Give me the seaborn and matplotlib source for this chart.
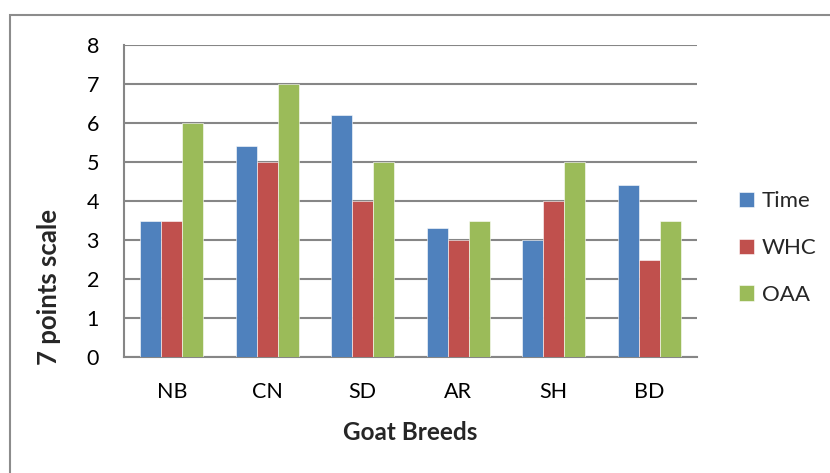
import matplotlib
matplotlib.use("Agg")
import matplotlib.pyplot as plt
import seaborn as sns
import pandas as pd

breeds = ["NB", "CN", "SD", "AR", "SH", "BD"]
time_vals = [3.5, 5.4, 6.2, 3.3, 3.0, 4.4]
whc_vals = [3.5, 5.0, 4.0, 3.0, 4.0, 2.5]
oaa_vals = [6.0, 7.0, 5.0, 3.5, 5.0, 3.5]
series_names = ["Time", "WHC", "OAA"]
colors = ["#4F81BD", "#C0504D", "#9BBB59"]
y_ticks = [0, 1, 2, 3, 4, 5, 6, 7, 8]

df = pd.DataFrame({
    "Breed": breeds * 3,
    "Series": [s for s in series_names for _ in breeds],
    "Score": time_vals + whc_vals + oaa_vals,
})

sns.set_theme(style="white")
plt.rcParams["font.family"] = ["Lato", "DejaVu Sans"]

fig = plt.figure(figsize=(8.3, 4.73), dpi=100)
ax = fig.add_axes([0.1494, 0.2452, 0.6904, 0.6597])

sns.barplot(data=df, x="Breed", y="Score", hue="Series", order=breeds,
            hue_order=series_names, palette=colors, width=0.66,
            saturation=1, edgecolor="white", linewidth=0.4, ax=ax, zorder=3)

ax.set_ylim(0, 8)
ax.set_yticks(y_ticks)
ax.set_xlim(-0.5, len(breeds) - 0.5)
ax.grid(axis="y", color="#868686", linewidth=1.5, zorder=0)
ax.set_axisbelow(True)
for side in ["top", "right"]:
    ax.spines[side].set_visible(False)
for side in ["left", "bottom"]:
    ax.spines[side].set_color("#868686")
    ax.spines[side].set_linewidth(1.5)
ax.tick_params(axis="both", length=0, labelsize=15.5, colors="black")
ax.tick_params(axis="y", pad=18)
ax.tick_params(axis="x", pad=18)

ax.set_xlabel("Goat Breeds", fontsize=17.5, fontweight="bold", labelpad=14)
ax.set_ylabel("7 points scale", fontsize=18.5, fontweight="bold")
ax.yaxis.set_label_coords(-0.11, 0.224)

leg = ax.legend(loc="center left", bbox_to_anchor=(1.073, 0.349), frameon=False,
                fontsize=16, handlelength=0.68, handleheight=0.68,
                labelspacing=1.2, handletextpad=0.35, borderpad=0,
                borderaxespad=0)

# outer chart frame
fig.patches.append(plt.Rectangle((10 / 830, -0.05), 1.1, 1 - 15 / 473 + 0.05,
                                 transform=fig.transFigure, fill=False,
                                 edgecolor="#8c8c8c", linewidth=1.5))

fig.savefig("out.png", dpi=100)
